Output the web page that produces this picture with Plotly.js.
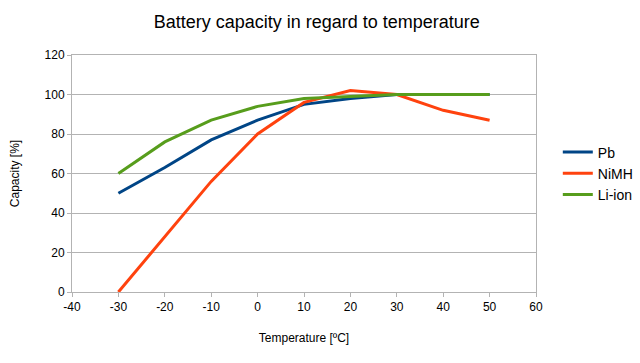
<!DOCTYPE html>
<html>
<head>
<meta charset="utf-8">
<script src="https://cdn.plot.ly/plotly-3.0.1.min.js"></script>
<style>html,body{margin:0;padding:0;background:#fff;}#chart{width:640px;height:363px;}</style>
</head>
<body>
<div id="chart"></div>
<script>
const temperature = [-30, -20, -10, 0, 10, 20, 30, 40, 50];
const pb = [50, 63, 77, 87, 95, 98, 100, 100, 100];
const nimh = [0, 28, 56, 80, 96, 102, 100, 92, 87];
const liion = [60, 76, 87, 94, 98, 99, 100, 100, 100];
const seriesNames = ["Pb", "NiMH", "Li-ion"];
const xTicks = [-40, -30, -20, -10, 0, 10, 20, 30, 40, 50, 60];
const yTicks = [0, 20, 40, 60, 80, 100, 120];

const colors = ["#004586", "#ff420e", "#579d1c"];
const data = [pb, nimh, liion].map((ys, i) => ({
  x: temperature, y: ys, name: seriesNames[i], type: "scatter", mode: "lines",
  line: {color: colors[i], width: 3}
}));

const layout = {
  width: 640, height: 363,
  margin: {l: 72, r: 104, t: 55, b: 71, autoexpand: false},
  paper_bgcolor: "#fff", plot_bgcolor: "#fff",
  font: {family: "Liberation Sans, Arial, sans-serif", size: 12, color: "#000"},
  title: {text: "Battery capacity in regard to temperature", font: {size: 18}, x: 0.495, xanchor: "center", y: 0.94, yanchor: "middle"},
  xaxis: {
    range: [-40, 60], tickvals: xTicks, ticktext: xTicks.map(String), showgrid: false, zeroline: false,
    showline: true, linecolor: "#b3b3b3", linewidth: 1, mirror: true,
    ticks: "outside", ticklen: 4, tickcolor: "#b3b3b3",
    title: {text: "Temperature [ºC]", font: {size: 12}, standoff: 20}
  },
  yaxis: {
    range: [0, 120], tickvals: yTicks, ticktext: yTicks.map(String), showgrid: true, gridcolor: "#b3b3b3", zeroline: false,
    showline: true, linecolor: "#b3b3b3", linewidth: 1, mirror: true,
    ticks: "outside", ticklen: 4, tickcolor: "#b3b3b3",
    title: {text: "Capacity [%]", font: {size: 12}, standoff: 22}
  },
  legend: {x: 1.047, xanchor: "left", y: 0.5, yanchor: "middle", font: {size: 14}, tracegroupgap: 0, itemwidth: 30, bgcolor: "rgba(0,0,0,0)"},
  showlegend: true
};
Plotly.newPlot("chart", data, layout, {displayModeBar: false, staticPlot: true});
</script>
</body>
</html>
